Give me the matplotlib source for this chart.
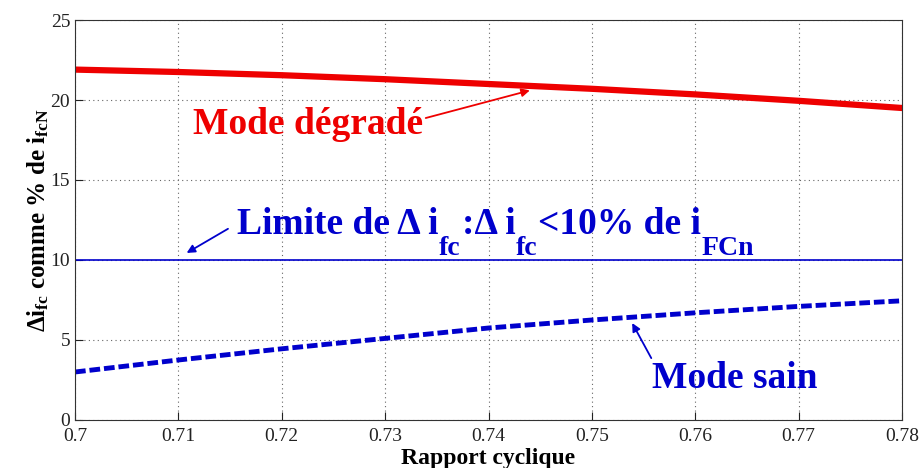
import numpy as np
import matplotlib.pyplot as plt

plt.rcParams['font.family'] = ['Liberation Serif', 'DejaVu Serif']
plt.rcParams['mathtext.fontset'] = 'custom'
plt.rcParams['mathtext.rm'] = 'Liberation Serif:bold'
plt.rcParams['mathtext.bf'] = 'Liberation Serif:bold'
plt.rcParams['mathtext.it'] = 'Liberation Serif:bold'
plt.rcParams['mathtext.default'] = 'rm'

# rapport cyclique
d = [0.70, 0.71, 0.72, 0.73, 0.74, 0.75, 0.76, 0.77, 0.78]
# ondulation en mode degrade (%)
degrade = [21.9, 21.75, 21.55, 21.3, 21.0, 20.7, 20.35, 19.95, 19.5]
# ondulation en mode sain (%)
sain = [3.0, 3.75, 4.45, 5.1, 5.75, 6.25, 6.7, 7.1, 7.45]
limite = 10

xticks = [0.7, 0.71, 0.72, 0.73, 0.74, 0.75, 0.76, 0.77, 0.78]
xticklabels = ['0.7', '0.71', '0.72', '0.73', '0.74', '0.75', '0.76', '0.77', '0.78']
yticks = [0, 5, 10, 15, 20, 25]

red = '#ee0000'
blue = '#0000cc'

fig = plt.figure(figsize=(9.21, 4.68), dpi=100)
ax = fig.add_axes([75/921, 48/468, 827/921, 400/468])

ax.plot(d, degrade, color=red, lw=4.5)
ax.plot(d, sain, color=blue, lw=3.5, ls=(0, (2.2, 0.8)))
ax.axhline(limite, color=blue, lw=1.2)

ax.set_xlim(0.7, 0.78)
ax.set_ylim(0, 25)
ax.set_xticks(xticks)
ax.set_xticklabels(xticklabels)
ax.set_yticks(yticks)
ax.tick_params(direction='in', labelsize=14, length=6, colors='#222222')
ax.tick_params(axis='x', pad=6)
ax.grid(True, ls=(0, (1, 3)), color='#666666', lw=0.8)
for s in ax.spines.values():
    s.set_color('#333333')

ax.set_xlabel('Rapport cyclique', fontsize=17, fontweight='bold', labelpad=2)
ax.set_ylabel(r'$\Delta$i$_{\rm fc}$ comme % de i$_{\rm fcN}$', fontsize=18,
              fontweight='bold', labelpad=0)

arrow = dict(arrowstyle='-|>', lw=1.3, mutation_scale=12, shrinkA=0, shrinkB=0)

ax.annotate('Mode dégradé', xy=(0.7440, 20.6), xytext=(0.7114, 18.5),
            fontsize=27, fontweight='bold', color=red, va='center',
            arrowprops=dict(arrow, color=red, relpos=(1, 0.65)))

# texte de la limite : morceaux principaux et indices enchaines
main_parts = ['Limite de \u0394 i', ':\u0394 i', '<10% de i']
sub_parts = ['fc', 'fc', 'FCn']
t = ax.text(0.7157, 11.15, main_parts[0], fontsize=27, fontweight='bold',
            color=blue, va='bottom')
first = t
ax.annotate('', xy=(0.7108, 10.44), xytext=(0.7148, 11.95),
            arrowprops=dict(arrow, color=blue))
for k in range(len(sub_parts)):
    s = ax.annotate(sub_parts[k], xy=(1, 0), xycoords=(t, first),
                    xytext=(0, -14), textcoords='offset points',
                    fontsize=20, fontweight='bold', color=blue,
                    ha='left', va='bottom')
    if k + 1 < len(main_parts):
        t = ax.annotate(main_parts[k + 1], xy=(1, 0), xycoords=(s, first),
                        xytext=(1, 0), textcoords='offset points',
                        fontsize=27, fontweight='bold', color=blue,
                        ha='left', va='bottom')

ax.annotate('Mode sain', xy=(0.7539, 6.06), xytext=(0.7558, 2.6),
            fontsize=27, fontweight='bold', color=blue, va='center',
            arrowprops=dict(arrow, color=blue, relpos=(0, 1.05)))

fig.savefig('out.png', dpi=100)
